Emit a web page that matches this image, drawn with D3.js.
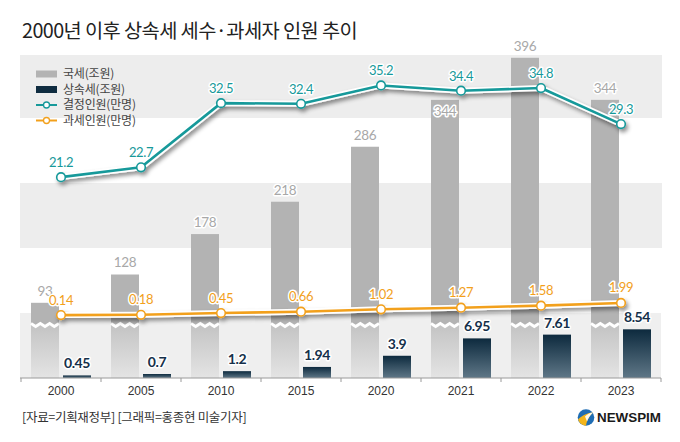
<!DOCTYPE html>
<html><head><meta charset="utf-8">
<script src="https://cdn.jsdelivr.net/npm/d3@7"></script>
<style>
html,body{margin:0;padding:0;background:#fff;}
svg{display:block;}
</style></head>
<body>
<svg id="chart" width="680" height="442"></svg>
<script>
const years = ["2000","2005","2010","2015","2020","2021","2022","2023"];
const nationalTax = [93,128,178,218,286,344,396,344];      // 국세(조원)
const inheritanceTax = [0.45,0.7,1.2,1.94,3.9,6.95,7.61,8.54]; // 상속세(조원)
const decidedPeople = [21.2,22.7,32.5,32.4,35.2,34.4,34.8,29.3]; // 결정인원(만명)
const taxedPeople = [0.14,0.18,0.45,0.66,1.02,1.27,1.58,1.99];   // 과세인원(만명)
const legendLabels = ["국세(조원)","상속세(조원)","결정인원(만명)","과세인원(만명)"];
const title = "2000년 이후 상속세 세수·과세자 인원 추이";
const source = "[자료=기획재정부] [그래픽=홍종현 미술기자]";

const C = {gray:"#b3b3b3", navy:"#0f2c40", teal:"#17999a", orange:"#f2a01c", band:"#ededed", text:"#333"};
const svg = d3.select("#chart");
const defs = svg.append("defs");
const g1 = defs.append("linearGradient").attr("id","navyGrad").attr("x1",0).attr("x2",0).attr("y1",0).attr("y2",1);
g1.append("stop").attr("offset","0%").attr("stop-color","#0d2a3e");
g1.append("stop").attr("offset","100%").attr("stop-color","#5f7787");
const g2 = defs.append("linearGradient").attr("id","lowGrad").attr("x1",0).attr("x2",0).attr("y1",0).attr("y2",1);
g2.append("stop").attr("offset","0%").attr("stop-color","#c4c4c4");
g2.append("stop").attr("offset","100%").attr("stop-color","#e4e4e4");
const f = defs.append("filter").attr("id","shadow").attr("x","-10%").attr("y","-60%").attr("width","120%").attr("height","220%");
f.append("feDropShadow").attr("dx",2).attr("dy",3).attr("stdDeviation",2).attr("flood-color","#000").attr("flood-opacity",0.45);

const x = d3.scaleBand().domain(years).range([21,661]).padding(0);
const yTax = d3.scaleLinear().domain([0,400]).range([378, 378-400*0.8086]);
const yInh = d3.scaleLinear().domain([0,10]).range([378, 321]);
const yPpl = d3.scaleLinear().domain([0,40]).range([316, 316-40*6.55]);
const cx = d => x(d) + x.bandwidth()/2;
const kf = "'Noto Sans CJK KR','Noto Sans',sans-serif";

// Title
svg.append("text").attr("x",22).attr("y",37.5).text(title)
  .attr("font-family",kf).attr("font-size",19.8)
  .attr("font-weight",400).attr("letter-spacing",-0.6).attr("fill","#222");

// background bands
[[55,118],[183,248]].forEach(([a,b]) => {
  svg.append("rect").attr("x",20).attr("y",a).attr("width",642).attr("height",b-a).attr("fill",C.band);
});
svg.append("rect").attr("x",20).attr("y",313).attr("width",641).attr("height",65).attr("fill","#efefef");

// National tax bars
const barW = 28;
const gb = svg.append("g");
years.forEach((yr,i) => {
  const x0 = cx(yr) - 30;
  gb.append("rect").attr("x",x0).attr("y",yTax(nationalTax[i])).attr("width",barW)
    .attr("height",yTax(0)-yTax(nationalTax[i])).attr("fill",C.gray);
  gb.append("rect").attr("x",x0).attr("y",326).attr("width",barW).attr("height",yTax(0)-326).attr("fill","url(#lowGrad)");
  const pts = [];
  const n = 6;
  for (let k=0;k<=n;k++) pts.push([x0 + k*barW/n, k%2===0 ? 323.5 : 326.5]);
  gb.append("path").attr("d", d3.line()(pts)).attr("fill","none").attr("stroke","#fff").attr("stroke-width",3);
});

// Inheritance tax bars
years.forEach((yr,i) => {
  svg.append("rect").attr("x",cx(yr)+2).attr("y",yInh(inheritanceTax[i])).attr("width",barW)
    .attr("height",yInh(0)-yInh(inheritanceTax[i])).attr("fill","url(#navyGrad)");
});

// Axis
const axisG = svg.append("g").attr("transform","translate(0,378)");
axisG.append("line").attr("x1",20).attr("x2",661).attr("stroke","#9a9a9a").attr("stroke-width",1);
const boundaries = years.map(d => x(d)).concat([x(years[years.length-1])+x.bandwidth()]);
boundaries.forEach(b => axisG.append("line").attr("x1",b).attr("x2",b).attr("y1",0).attr("y2",4).attr("stroke","#9a9a9a"));
axisG.selectAll("text.yr").data(years).join("text").attr("class","yr")
  .attr("x",d=>cx(d)).attr("y",16.5).attr("text-anchor","middle").text(d=>d)
  .attr("font-family","'Liberation Sans',Arial,sans-serif").attr("font-size",12).attr("fill","#333");

// Lines
function drawLine(vals, color) {
  const g = svg.append("g").attr("filter","url(#shadow)");
  const pts = years.map((yr,i) => [cx(yr), yPpl(vals[i])]);
  const line = d3.line();
  g.append("path").attr("d", line(pts)).attr("fill","none").attr("stroke","#fff").attr("stroke-width",6).attr("stroke-linejoin","round");
  g.append("path").attr("d", line(pts)).attr("fill","none").attr("stroke",color).attr("stroke-width",2.6).attr("stroke-linejoin","round");
  g.selectAll("circle").data(pts).join("circle").attr("cx",d=>d[0]).attr("cy",d=>d[1]).attr("r",4.3)
    .attr("fill","#fff").attr("stroke",color).attr("stroke-width",1.6);
}
drawLine(decidedPeople, C.teal);
drawLine(taxedPeople, C.orange);

// Labels
function label(xp, yp, txt, color, size, weight) {
  svg.append("text").attr("x",xp).attr("y",yp).attr("text-anchor","middle").text(txt)
    .attr("font-family","Lato,'Open Sans',sans-serif").attr("font-size",size).attr("font-weight",weight)
    .attr("letter-spacing",-0.4).attr("fill",color)
    .attr("stroke","#fff").attr("stroke-width",3).attr("stroke-linejoin","round").attr("paint-order","stroke");
}
const insideLabel = new Set(["2021"]);
years.forEach((yr,i) => {
  const top = yTax(nationalTax[i]);
  label(cx(yr)-16, insideLabel.has(yr) ? top+16 : top-7, nationalTax[i], "#a8a8a8", 13.5, 400);
  label(cx(yr)+16, yInh(inheritanceTax[i])-7, inheritanceTax[i], "#15304a", 14, 700);
  label(cx(yr), yPpl(decidedPeople[i])-10, decidedPeople[i], C.teal, 13, 400);
  label(cx(yr), yPpl(taxedPeople[i])-10.5, taxedPeople[i], C.orange, 13, 400);
});

// Legend
const lg = svg.append("g");
const rowY = [74, 89.5, 105, 120.5];
legendLabels.forEach((t,i) => {
  const yy = rowY[i];
  if (i < 2) {
    lg.append("rect").attr("x",36).attr("y",yy-3.5).attr("width",21).attr("height",7).attr("fill", i===0 ? C.gray : C.navy);
  } else {
    const col = i===2 ? C.teal : C.orange;
    lg.append("line").attr("x1",36).attr("x2",57).attr("y1",yy).attr("y2",yy).attr("stroke",col).attr("stroke-width",2);
    lg.append("circle").attr("cx",46.5).attr("cy",yy).attr("r",3).attr("fill","#fff").attr("stroke",col).attr("stroke-width",1.3);
  }
  lg.append("text").attr("x",63).attr("y",yy+4.2).text(t).attr("font-family",kf).attr("font-size",12)
    .attr("letter-spacing",-0.2).attr("fill","#444");
});

// Footer
svg.append("text").attr("x",22).attr("y",421.5).text(source).attr("font-family",kf).attr("font-size",12.5)
  .attr("letter-spacing",-0.3).attr("fill","#333");

// Logo
const logo = svg.append("g").attr("transform","translate(586,417.5)");
logo.append("circle").attr("r",8.3).attr("fill","#1f6db4");
logo.append("path").attr("d","M-8,2 C-4,-2 2,-5 7,-5 C4,-2 1,2 0,8.2 C-4,8 -7,5 -8,2 Z").attr("fill","#f3b51b");
logo.append("path").attr("d","M-1,-1 C1,-3 4,-5 7,-5 C4,-2 2,1 1,4 Z").attr("fill","#fff").attr("opacity",0.9);
svg.append("text").attr("x",597).attr("y",421.5).text("NEWSPIM").attr("font-family","'Liberation Sans',Arial,sans-serif")
  .attr("font-weight",700).attr("font-size",12.5).attr("textLength",64).attr("lengthAdjust","spacingAndGlyphs").attr("fill","#1a1a1a");
</script>
</body></html>
